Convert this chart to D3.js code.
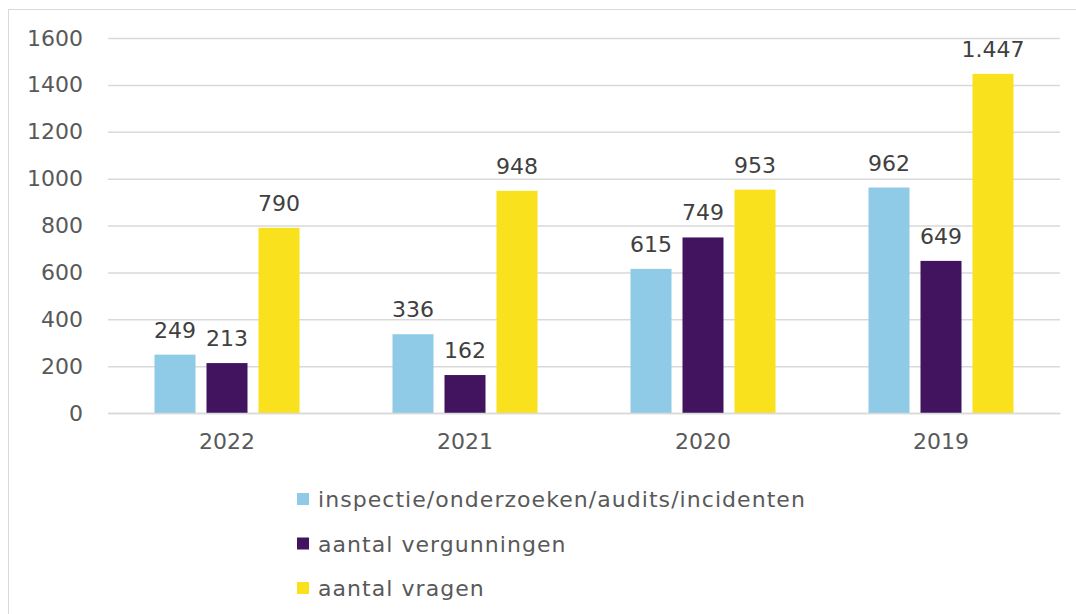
<!DOCTYPE html>
<html>
<head>
<meta charset="utf-8">
<script src="https://cdn.jsdelivr.net/npm/d3@7"></script>
<style>
  html, body { margin: 0; padding: 0; background: #fff; }
  svg { display: block; font-family: "DejaVu Sans", Verdana, sans-serif; }
</style>
</head>
<body>
<svg id="chart" width="1076" height="614"></svg>
<script>
const years = ["2022", "2021", "2020", "2019"];
const seriesNames = [
  "inspectie/onderzoeken/audits/incidenten",
  "aantal vergunningen",
  "aantal vragen",
];
const inspecties = [249, 336, 615, 962];
const vergunningen = [213, 162, 749, 649];
const vragen = [790, 948, 953, 1447];
const yTicks = [0, 200, 400, 600, 800, 1000, 1200, 1400, 1600];
const colors = ["#8fcae7", "#42145f", "#f9e11e"];

const seriesValues = [inspecties, vergunningen, vragen];
const rows = years.map((year, i) => ({
  year,
  values: seriesValues.map((vals, s) => ({ s, value: vals[i] })),
}));

const svg = d3.select("#chart");
const width = 1076;
const margin = { top: 38, left: 108, right: 16 };
const plotBottom = 413;

// light frame
svg.append("rect")
  .attr("x", 8.5).attr("y", 9.5)
  .attr("width", width + 10).attr("height", 700)
  .attr("fill", "none").attr("stroke", "#d9d9d9");

const x0 = d3.scaleBand()
  .domain(years)
  .range([margin.left, width - margin.right]);

const x1 = d3.scaleBand()
  .domain(d3.range(seriesNames.length))
  .range([0, x0.bandwidth()])
  .paddingInner(0.2115)
  .paddingOuter(0.894);

const y = d3.scaleLinear()
  .domain([0, 1600])
  .range([plotBottom, margin.top]);

const textColor = "#595959";
const fs = 22;

// grid
const yAxis = svg.append("g")
  .attr("transform", `translate(${margin.left},0)`)
  .call(d3.axisLeft(y).tickValues(yTicks).tickSize(-(width - margin.right - margin.left)).tickPadding(25).tickFormat(d3.format("d")));
yAxis.select(".domain").remove();
yAxis.selectAll(".tick line").attr("stroke", "#d9d9d9").attr("stroke-width", 1.5);
yAxis.selectAll(".tick text")
  .attr("fill", textColor)
  .attr("font-size", fs)
  .attr("font-family", "DejaVu Sans, Verdana, sans-serif");

// bars
const groups = svg.append("g").selectAll("g")
  .data(rows)
  .join("g")
  .attr("transform", (d) => `translate(${x0(d.year)},0)`);

groups.selectAll("rect")
  .data((d) => d.values)
  .join("rect")
  .attr("x", (d) => x1(d.s))
  .attr("y", (d) => y(d.value))
  .attr("width", x1.bandwidth())
  .attr("height", (d) => y(0) - y(d.value))
  .attr("fill", (d) => colors[d.s]);

groups.selectAll("text")
  .data((d) => d.values)
  .join("text")
  .attr("x", (d) => x1(d.s) + x1.bandwidth() / 2)
  .attr("y", (d) => y(d.value) - 17)
  .attr("text-anchor", "middle")
  .attr("fill", "#404040")
  .attr("font-size", fs)
  .text((d) => d3.format(",")(d.value).replace(/,/g, "."));

// x axis line and labels
const xAxis = svg.append("g")
  .attr("transform", `translate(0,${plotBottom})`)
  .call(d3.axisBottom(x0).tickSize(0).tickPadding(20));
xAxis.select(".domain").attr("stroke", "#d9d9d9").attr("stroke-width", 1.5);
xAxis.selectAll(".tick text")
  .attr("fill", textColor)
  .attr("font-size", fs)
  .attr("font-family", "DejaVu Sans, Verdana, sans-serif");

// legend
const legend = svg.append("g")
  .selectAll("g")
  .data(seriesNames)
  .join("g")
  .attr("transform", (d, i) => `translate(297,${507 + i * 44.5})`);

legend.append("rect")
  .attr("x", 0).attr("y", -14)
  .attr("width", 12).attr("height", 12)
  .attr("fill", (d, i) => colors[i]);

legend.append("text")
  .attr("x", 21).attr("y", 0)
  .attr("fill", textColor)
  .attr("font-size", fs)
  .attr("letter-spacing", 1.05)
  .text((d) => d);
</script>
</body>
</html>
